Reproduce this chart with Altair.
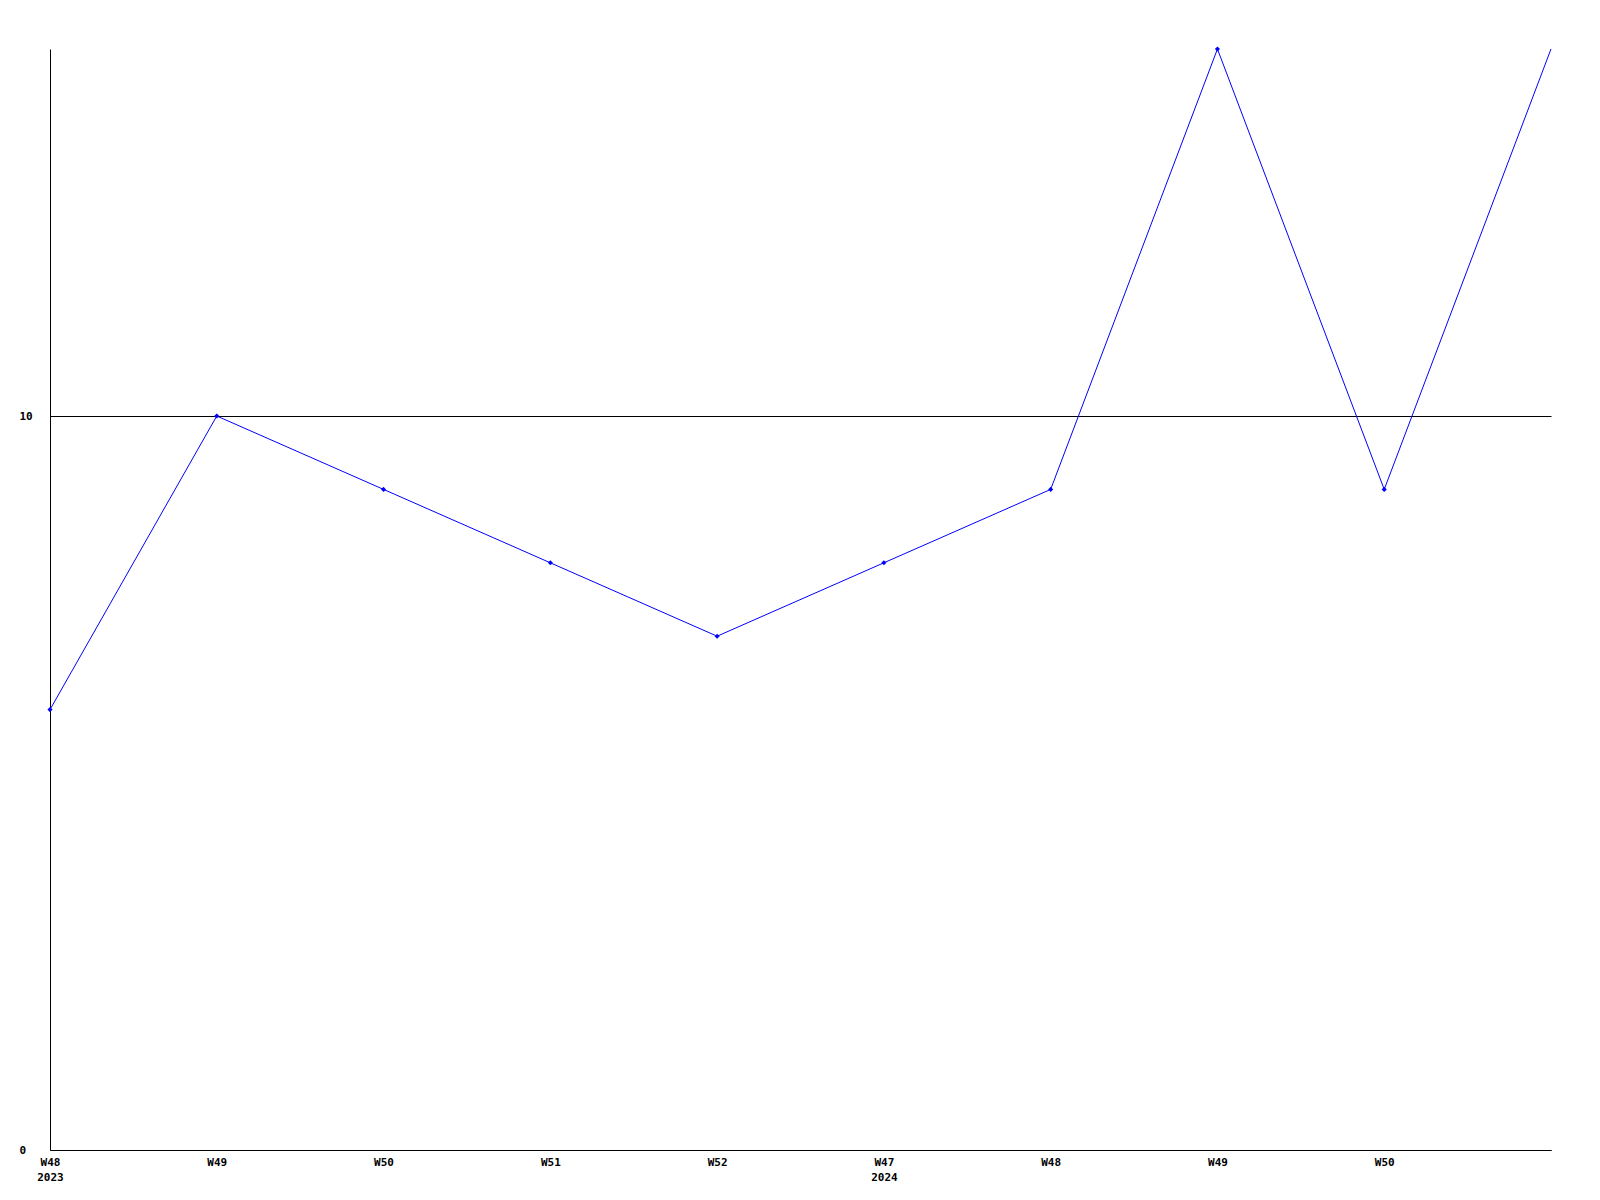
import json
import altair as alt
import pandas as pd

weeks = ["W48", "W49", "W50", "W51", "W52", "W47", "W48", "W49", "W50", ""]
years = ["2023", "", "", "", "", "2024", "", "", "", ""]
values = [6, 10, 9, 8, 7, 8, 9, 15, 9, 15]

df = pd.DataFrame({"i": list(range(len(values))), "v": values})

label_arr = json.dumps([[w, y] if y else w for w, y in zip(weeks, years)])
label_expr = f"{label_arr}[datum.value]"

x = alt.X("i:Q", scale=alt.Scale(domain=[0, len(values) - 1], nice=False, zero=False),
          axis=alt.Axis(values=list(range(len(values) - 1)), labelExpr=label_expr, title=None,
                        grid=False, ticks=False, domainColor="black", domainWidth=1,
                        labelFont="DejaVu Sans Mono", labelFontWeight="bold", labelFontSize=11,
                        labelColor="black", labelPadding=6, labelLineHeight=15,
                        labelAlign="center", labelBaseline="top", labelFlush=False,
                        labelOverlap=False))
y = alt.Y("v:Q", scale=alt.Scale(domain=[0, 15], nice=False),
          axis=alt.Axis(values=[0, 10], title=None, grid=True, gridColor="black", gridWidth=1,
                        gridOpacity=1, ticks=False, domainColor="black", domainWidth=1,
                        labelFont="DejaVu Sans Mono", labelFontWeight="bold", labelFontSize=11,
                        labelColor="black", labelPadding=31, labelAlign="left",
                        labelBaseline="middle", labelFlush=False))

line = alt.Chart(df).mark_line(color="#0000FF", strokeWidth=1).encode(x=x, y=y)
pts = alt.Chart(df).transform_filter(f"datum.i < {len(values) - 1}").mark_point(
    shape="diamond", filled=True, color="#0000FF", size=26, opacity=1).encode(x=x, y=y)

chart = (line + pts).properties(
    width=1501, height=1101,
    background="white",
    autosize=alt.AutoSizeParams(type="none"),
    padding={"left": 42, "top": 41, "right": 41, "bottom": 42},
).configure_view(stroke="transparent", strokeWidth=0)

chart.save("out.html", embed_options={"renderer": "svg", "actions": False})
